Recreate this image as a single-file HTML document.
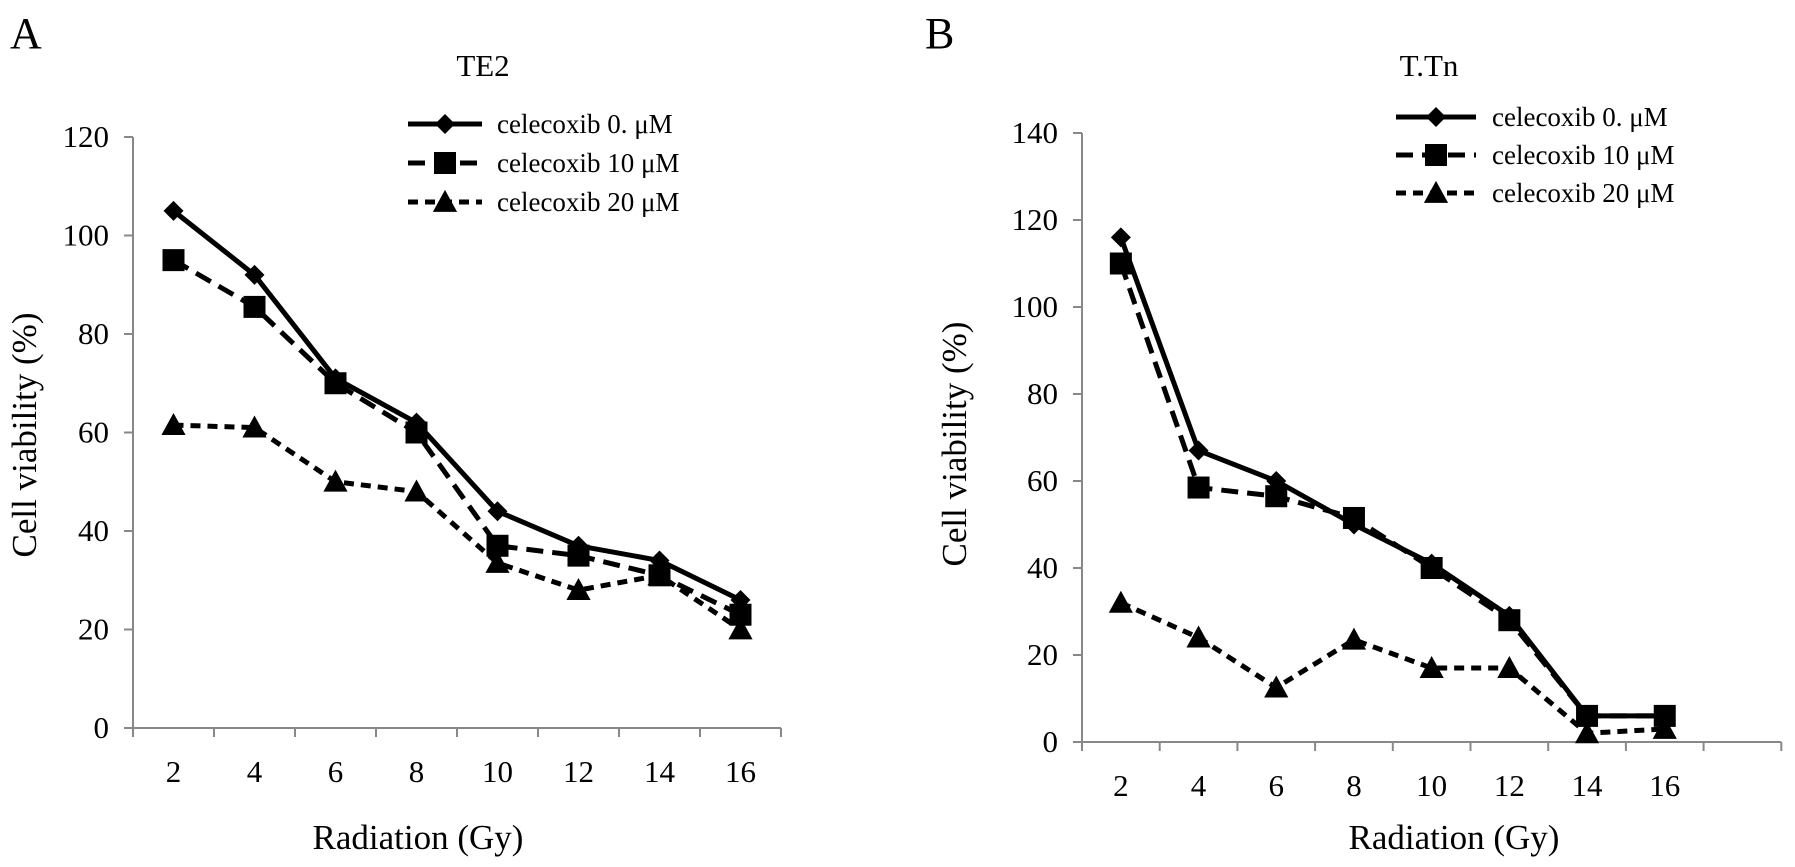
<!DOCTYPE html>
<html><head><meta charset="utf-8"><style>
html,body{margin:0;padding:0;background:#fff;}
svg{display:block;font-family:"Liberation Serif",serif;}
</style></head><body>
<svg id="fig" width="1795" height="867" viewBox="0 0 1795 867">
<text x="10" y="48" font-size="44">A</text>
<text x="483" y="76" font-size="31" text-anchor="middle">TE2</text>
<text x="925" y="48" font-size="44">B</text>
<text x="1429" y="76" font-size="31" text-anchor="middle">T.Tn</text>
<g id="chartA"></g>
<g id="chartB"></g>
</svg>
<script>
const categories = ["2","4","6","8","10","12","14","16"];
const seriesNames = ["celecoxib 0. \u03bcM","celecoxib 10 \u03bcM","celecoxib 20 \u03bcM"];
const te2Celecoxib0 = [105,92,71,62,44,37,34,26];
const te2Celecoxib10 = [95,85.5,70,60,37,35,31,23];
const te2Celecoxib20 = [61.5,61,50,48,33.5,28,31,20];
const ttnCelecoxib0 = [116,67,60,50,41,29,6,6];
const ttnCelecoxib10 = [110,58.5,56.5,51.5,40,28,6,6];
const ttnCelecoxib20 = [32,24,12.5,23.5,17,17,2,3];
const te2YTicks = [0,20,40,60,80,100,120];
const ttnYTicks = [0,20,40,60,80,100,120,140];

const NS="http://www.w3.org/2000/svg";
function mk(parent,tag,attrs){const e=document.createElementNS(NS,tag);for(const k in attrs)e.setAttribute(k,attrs[k]);parent.appendChild(e);return e;}
const dashes=["none","17,9","10,7"];
function marker(g,kind,x,y,s){
  let m;
  if(kind===0){m=mk(g,"polygon",{points:`${x},${y-s*0.5} ${x+s*0.5},${y} ${x},${y+s*0.5} ${x-s*0.5},${y}`,fill:"#000"});}
  else if(kind===1){m=mk(g,"rect",{x:x-s*0.5,y:y-s*0.5,width:s,height:s,fill:"#000"});}
  else {m=mk(g,"polygon",{points:`${x},${y-s*0.55} ${x+s*0.55},${y+s*0.45} ${x-s*0.55},${y+s*0.45}`,fill:"#000"});}
  return m;
}
function drawChart(g,cfg){
  const {x0,y0,yTop,yMax,band,nBands,ticks,series,legend,ylabX,ylabY,xtitleX}=cfg;
  const ys=v=>y0-(v/yMax)*(y0-yTop);
  const xs=i=>x0+band*(i+0.5);
  const ax=mk(g,"path",{d:`M${x0},${yTop} V${y0} H${x0+band*nBands}`,stroke:"#888",fill:"none","stroke-width":2});
  
  
  ticks.forEach(t=>{
    const tk=mk(g,"line",{x1:x0-9,x2:x0,y1:ys(t),y2:ys(t),stroke:"#888","stroke-width":2});
    
    
    const tl=mk(g,"text",{x:x0-24,y:ys(t)+10,"font-size":31,"text-anchor":"end"});
    tl.textContent=t;
    
    
  });
  for(let i=0;i<=nBands;i++){
    const tk=mk(g,"line",{x1:x0+band*i,x2:x0+band*i,y1:y0,y2:y0+9,stroke:"#888","stroke-width":2});
    
    
  }
  categories.forEach((c,i)=>{
    const tl=mk(g,"text",{x:xs(i),y:y0+54,"font-size":31,"text-anchor":"middle"});
    tl.textContent=c;
    
    
  });
  const yl=mk(g,"text",{x:ylabX,y:ylabY,"font-size":35,"text-anchor":"middle",transform:`rotate(-90 ${ylabX} ${ylabY})`});
  yl.textContent="Cell viability (%)";
  
  
  const xt=mk(g,"text",{x:xtitleX,y:849,"font-size":35,"text-anchor":"middle"});
  xt.textContent="Radiation (Gy)";
  
  
  series.forEach((vals,k)=>{
    const sg=mk(g,"g",{});
    
    
    const pts=vals.map((v,i)=>`${xs(i)},${ys(v)}`).join(" ");
    const attrs={points:pts,fill:"none",stroke:"#000","stroke-width":5,"stroke-linejoin":"round"};
    if(k>0)attrs["stroke-dasharray"]=dashes[k];
    const pl=mk(sg,"polyline",attrs);
    
    
    vals.forEach((v,i)=>{
      const m=marker(sg,k,xs(i),ys(v),[20,22,22][k]);
      
      
    });
  });
  seriesNames.forEach((n,k)=>{
    const lg=mk(g,"g",{});
    
    
    const y=legend.y+k*legend.dy;
    const la={x1:legend.x1,x2:legend.x2,y1:y,y2:y,stroke:"#000","stroke-width":5};
    if(k>0)la["stroke-dasharray"]=dashes[k];
    mk(lg,"line",la);
    marker(lg,k,(legend.x1+legend.x2)/2,y,[20,22,22][k]);
    const t=mk(lg,"text",{x:legend.tx,y:y+9,"font-size":27});
    t.textContent=n;
  });
}
drawChart(document.getElementById("chartA"),{x0:133,y0:728,yTop:137,yMax:120,band:81,nBands:8,ticks:te2YTicks,
  series:[te2Celecoxib0,te2Celecoxib10,te2Celecoxib20],legend:{x1:408,x2:482,tx:497,y:124,dy:39},ylabX:36,ylabY:435,xtitleX:418});
drawChart(document.getElementById("chartB"),{x0:1082,y0:742,yTop:133,yMax:140,band:77.7,nBands:9,ticks:ttnYTicks,
  series:[ttnCelecoxib0,ttnCelecoxib10,ttnCelecoxib20],legend:{x1:1396,x2:1476,tx:1492,y:117,dy:38},ylabX:966,ylabY:444,xtitleX:1454});
</script>
</body></html>
